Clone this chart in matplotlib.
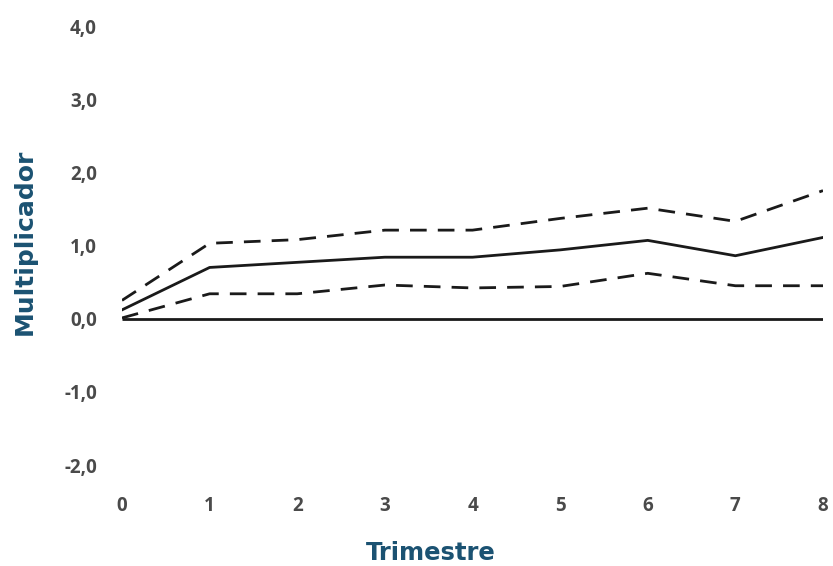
import matplotlib
matplotlib.use("Agg")
import matplotlib.pyplot as plt

quarters = [0, 1, 2, 3, 4, 5, 6, 7, 8]
multiplier = [0.12, 0.70, 0.77, 0.84, 0.84, 0.94, 1.07, 0.86, 1.11]
upper = [0.25, 1.03, 1.08, 1.21, 1.21, 1.37, 1.51, 1.33, 1.75]
lower = [0.01, 0.34, 0.34, 0.46, 0.42, 0.44, 0.62, 0.45, 0.45]
zero = [0, 0, 0, 0, 0, 0, 0, 0, 0]
yticks = [-2, -1, 0, 1, 2, 3, 4]
ytick_labels = ["-2,0", "-1,0", "0,0", "1,0", "2,0", "3,0", "4,0"]

plt.rcParams['font.family'] = ['Open Sans', 'DejaVu Sans']

W, H = 833, 566
fig = plt.figure(figsize=(W / 100, H / 100), dpi=100)
ax = fig.add_axes([122 / W, (H - 465) / H, (823 - 122) / W, (465 - 26) / H])

line_color = "#1a1a1a"
ax.plot(quarters, zero, color=line_color, lw=2.0, solid_capstyle='butt')
ax.plot(quarters, multiplier, color=line_color, lw=2.0)
ax.plot(quarters, upper, color=line_color, lw=2.0, dashes=(6, 4))
ax.plot(quarters, lower, color=line_color, lw=2.0, dashes=(6, 4))

ax.set_xlim(0, 8)
ax.set_ylim(-2, 4)
ax.set_xticks(quarters)
ax.set_xticklabels([str(q) for q in quarters])
ax.set_yticks(yticks)
ax.set_yticklabels(ytick_labels)

tick_color = "#4a4a4a"
ax.tick_params(axis='both', length=0, labelsize=13.5, labelcolor=tick_color)
ax.tick_params(axis='x', pad=22)
ax.tick_params(axis='y', pad=18)
for lab in ax.get_xticklabels() + ax.get_yticklabels():
    lab.set_fontweight('bold')

for s in ax.spines.values():
    s.set_visible(False)

label_color = "#1b5272"
ax.set_xlabel("Trimestre", fontsize=17.5, fontweight='bold', color=label_color,
              family=['DejaVu Sans'], va='center', ha='center')
ax.xaxis.set_label_coords((431 - 122) / 701, (465 - 553) / 439)
ax.set_ylabel("Multiplicador", fontsize=18, fontweight='bold', color=label_color,
              family=['DejaVu Sans'], va='center', ha='center')
ax.yaxis.set_label_coords((25 - 122) / 701, (465 - 242) / 439)

fig.savefig("out.png", dpi=100)
